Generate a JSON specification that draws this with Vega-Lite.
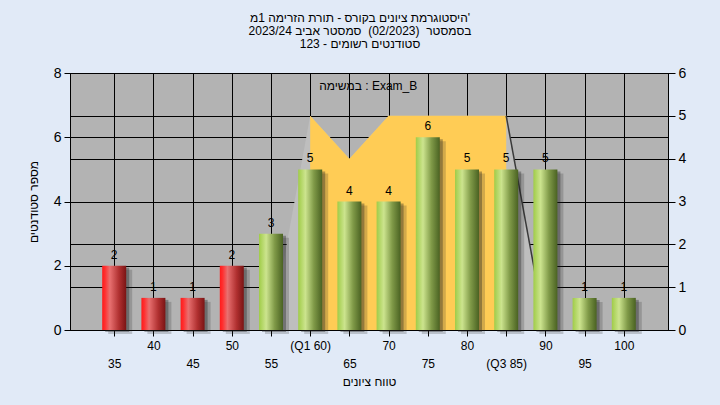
{
  "$schema": "https://vega.github.io/schema/vega-lite/v6.json",
  "width": 598,
  "height": 257,
  "autosize": {"type": "none"},
  "padding": {"left": 70, "top": 73, "right": 52, "bottom": 75},
  "background": "#E1EAF7",
  "config": {
    "font": "Liberation Sans",
    "view": {"fill": "#B3B3B3", "stroke": "#000000", "strokeWidth": 1}
  },
  "title": {
    "text": [
      "היסטוגרמת ציונים בקורס - תורת הזרימה 1מ'",
      "בסמסטר \u00a0(02/2023) \u00a0סמסטר אביב 2023/24",
      "סטודנטים רשומים - 123"
    ],
    "fontSize": 12,
    "fontWeight": "normal",
    "color": "#000000",
    "anchor": "middle",
    "dx": -9,
    "offset": 15,
    "lineHeight": 13
  },
  "datasets": {
    "hist": [
      {"grade": 35, "count": 2, "status": "fail"},
      {"grade": 40, "count": 1, "status": "fail"},
      {"grade": 45, "count": 1, "status": "fail"},
      {"grade": 50, "count": 2, "status": "fail"},
      {"grade": 55, "count": 3, "status": "pass"},
      {"grade": 60, "count": 5, "status": "pass"},
      {"grade": 65, "count": 4, "status": "pass"},
      {"grade": 70, "count": 4, "status": "pass"},
      {"grade": 75, "count": 6, "status": "pass"},
      {"grade": 80, "count": 5, "status": "pass"},
      {"grade": 85, "count": 5, "status": "pass"},
      {"grade": 90, "count": 5, "status": "pass"},
      {"grade": 95, "count": 1, "status": "pass"},
      {"grade": 100, "count": 1, "status": "pass"}
    ],
    "spread": [
      {"grade": 55, "level": 0},
      {"grade": 60, "level": 5},
      {"grade": 65, "level": 4},
      {"grade": 70, "level": 5},
      {"grade": 85, "level": 5},
      {"grade": 90, "level": 0}
    ],
    "iqr": [
      {"grade": 60, "level": 5},
      {"grade": 65, "level": 4},
      {"grade": 70, "level": 5},
      {"grade": 85, "level": 5}
    ]
  },
  "encoding": {
    "x": {
      "field": "grade",
      "type": "quantitative",
      "scale": {"domain": [30, 105], "nice": false, "zero": false},
      "title": "טווח ציונים",
      "axis": {
        "values": [35, 40, 45, 50, 55, 60, 65, 70, 75, 80, 85, 90, 95, 100],
        "grid": true,
        "gridColor": "#000000",
        "gridWidth": 1,
        "gridOpacity": 1,
        "domainColor": "#000000",
        "tickColor": "#000000",
        "tickSize": 6,
        "labelFontSize": 12,
        "labelColor": "#000000",
        "labelFlush": false,
        "labelOverlap": false,
        "labelPadding": {"condition": {"test": "datum.value % 10 == 0", "value": 4}, "value": 22},
        "labelExpr": "datum.value == 60 ? '(Q1 60)' : datum.value == 85 ? '(Q3 85)' : datum.label",
        "titleFontSize": 12,
        "titleFontWeight": "normal",
        "titleColor": "#000000",
        "titleX": 299,
        "titleY": 51,
        "titleAlign": "center",
        "titleBaseline": "middle"
      }
    }
  },
  "layer": [
    {
      "encoding": {
        "y": {
          "field": "level",
          "type": "quantitative",
          "scale": {"domain": [0, 6], "nice": false},
          "axis": {
            "orient": "right",
            "values": [0, 1, 2, 3, 4, 5, 6],
            "grid": true,
            "gridColor": "#000000",
            "gridWidth": 1,
            "gridOpacity": 1,
            "domainColor": "#000000",
            "tickColor": "#000000",
            "tickSize": 7,
            "labelPadding": 3,
            "labelFontSize": 14,
            "labelColor": "#000000",
            "labelFlush": false,
            "title": null
          }
        }
      },
      "layer": [
        {"data": {"name": "spread"}, "mark": {"type": "area", "color": "#BEBEBE", "opacity": 1}},
        {"data": {"name": "iqr"}, "mark": {"type": "area", "color": "#FFCC55", "opacity": 1}},
        {
          "data": {"name": "spread"},
          "transform": [{"filter": "datum.grade >= 85"}],
          "mark": {"type": "line", "color": "#3A3A3A", "strokeWidth": 1.5}
        }
      ]
    },
    {
      "data": {"name": "hist"},
      "encoding": {
        "y": {
          "field": "count",
          "type": "quantitative",
          "scale": {"domain": [0, 8], "nice": false},
          "title": "מספר סטודנטים",
          "axis": {
            "orient": "left",
            "values": [0, 2, 4, 6, 8],
            "grid": true,
            "gridColor": "#000000",
            "gridWidth": 1,
            "gridOpacity": 1,
            "domainColor": "#000000",
            "tickColor": "#000000",
            "tickSize": 6,
            "labelPadding": 3,
            "labelFontSize": 14,
            "labelColor": "#000000",
            "labelFlush": false,
            "titleFontSize": 12,
            "titleFontWeight": "normal",
            "titleColor": "#000000",
            "titleAngle": -90,
            "titleX": -37,
            "titleY": 128.5,
            "titleAlign": "center",
            "titleBaseline": "middle"
          }
        }
      },
      "layer": [
        {"mark": {"type": "bar", "size": 24, "color": "#202020", "opacity": 0.2, "xOffset": 6, "yOffset": 4}},
        {"mark": {"type": "bar", "size": 24, "color": "#202020", "opacity": 0.35, "xOffset": 3, "yOffset": 2}},
        {
          "transform": [{"filter": "datum.status == 'fail'"}],
          "mark": {
            "type": "bar",
            "size": 24,
            "color": {
              "gradient": "linear", "x1": 0, "y1": 0, "x2": 1, "y2": 0,
              "stops": [
                {"offset": 0, "color": "#FF1A1A"},
                {"offset": 0.12, "color": "#FF3030"},
                {"offset": 0.32, "color": "#E87070"},
                {"offset": 0.7, "color": "#B03030"},
                {"offset": 1, "color": "#7A1414"}
              ]
            }
          }
        },
        {
          "transform": [{"filter": "datum.status == 'pass'"}],
          "mark": {
            "type": "bar",
            "size": 24,
            "color": {
              "gradient": "linear", "x1": 0, "y1": 0, "x2": 1, "y2": 0,
              "stops": [
                {"offset": 0, "color": "#A0CC48"},
                {"offset": 0.3, "color": "#CCE48E"},
                {"offset": 0.65, "color": "#809A48"},
                {"offset": 1, "color": "#4A6222"}
              ]
            }
          }
        },
        {
          "mark": {"type": "text", "dy": -7, "baseline": "alphabetic", "fontSize": 12, "color": "#000000"},
          "encoding": {"text": {"field": "count"}}
        },
        {
          "transform": [{"filter": "datum.grade == 65"}],
          "mark": {"type": "text", "baseline": "middle", "align": "center", "fontSize": 12, "color": "#000000"},
          "encoding": {
            "x": {"datum": 67.4},
            "y": {"datum": 7.58},
            "text": {"value": "במשימה : Exam_B"}
          }
        }
      ]
    }
  ],
  "resolve": {"scale": {"y": "independent"}}
}
